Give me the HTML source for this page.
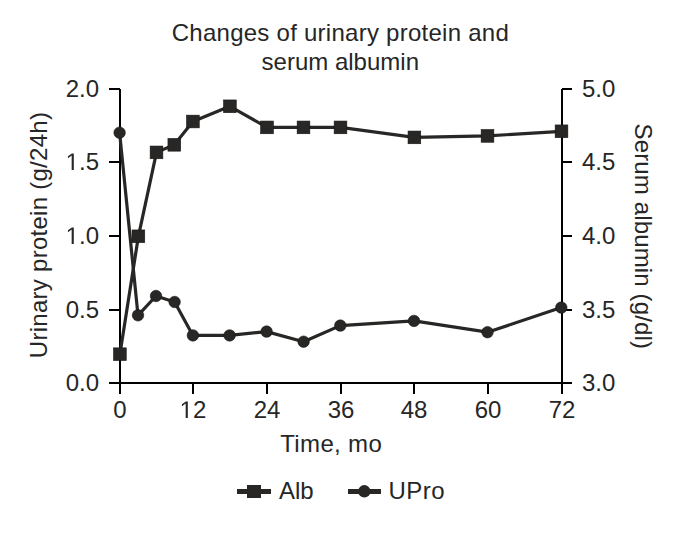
<!DOCTYPE html>
<html>
<head>
<meta charset="utf-8">
<style>
html,body{margin:0;padding:0;background:#fff;}
body{width:685px;height:539px;overflow:hidden;}
svg{display:block;}
text{font-family:"Liberation Sans",sans-serif;font-size:24px;fill:#262626;}
</style>
</head>
<body>
<svg width="685" height="539" viewBox="0 0 685 539">
<rect x="0" y="0" width="685" height="539" fill="#fff"/>
<!-- title -->
<text x="340.4" y="41" text-anchor="middle" letter-spacing="0.26">Changes of urinary protein and</text>
<text x="340.3" y="70" text-anchor="middle">serum albumin</text>

<!-- axes -->
<g stroke="#000" stroke-width="2" fill="none">
  <path d="M120 89V383H562V89"/>
  <path d="M109 89H120M109 162H120M109 236H120M109 310H120M109 383H120"/>
  <path d="M562 89H572M562 162H572M562 236H572M562 310H572M562 383H572"/>
  <path d="M120 383V394M193 383V394M267 383V394M341 383V394M414 383V394M488 383V394M562 383V394"/>
</g>

<!-- y left labels -->
<g text-anchor="end">
<text x="99" y="97">2.0</text>
<text x="99" y="170">.5</text><path fill="#262626" transform="translate(65.63,170) scale(0.011719,-0.011719)" d="M515 0V1237L197 1010V1180L530 1409H696V0Z"/>
<text x="99" y="244">.0</text><path fill="#262626" transform="translate(65.63,244) scale(0.011719,-0.011719)" d="M515 0V1237L197 1010V1180L530 1409H696V0Z"/>
<text x="99" y="318">0.5</text>
<text x="99" y="391">0.0</text>
</g>
<!-- y right labels -->
<g text-anchor="start">
<text x="582" y="97">5.0</text>
<text x="582" y="170">4.5</text>
<text x="582" y="244">4.0</text>
<text x="582" y="318">3.5</text>
<text x="582" y="391">3.0</text>
</g>
<!-- x labels -->
<g text-anchor="middle">
<text x="120" y="418">0</text>
<text x="193" y="418" text-anchor="start">2</text><path fill="#262626" transform="translate(179.65,418) scale(0.011719,-0.011719)" d="M515 0V1237L197 1010V1180L530 1409H696V0Z"/>
<text x="267" y="418">24</text>
<text x="341" y="418">36</text>
<text x="414" y="418">48</text>
<text x="488" y="418">60</text>
<text x="562" y="418">72</text>
</g>
<text x="331.2" y="452" text-anchor="middle" letter-spacing="0.35">Time, mo</text>

<text transform="translate(47,235.0) rotate(-90)" text-anchor="middle" letter-spacing="0.27">Urinary protein (g/24h)</text>
<text transform="translate(635,236.3) rotate(90)" text-anchor="middle" letter-spacing="0.14">Serum albumin (g/dl)</text>

<!-- series -->
<g stroke="#282725" stroke-width="3.2" fill="none" stroke-linejoin="round">
  <polyline points="119.9,354.2 138.4,236.3 156.5,152.4 174.3,144.8 192.9,121.5 229.9,106.3 267,127.4 303.5,127.4 340.5,127.4 414.4,137.4 487.5,135.9 561.5,131.3"/>
  <polyline points="119.6,132.7 138,315.3 156,296 174.6,302 192.9,335.4 229.6,335.4 266.6,331.6 303.6,341.7 340.3,325.6 414,320.9 487.5,332.2 561.3,307.6"/>
</g>
<g fill="#282725" stroke="#161616" stroke-width="0.6">
  <rect x="113.55" y="347.85" width="12.7" height="12.7"/>
  <rect x="132.05" y="229.95" width="12.7" height="12.7"/>
  <rect x="150.15" y="146.05" width="12.7" height="12.7"/>
  <rect x="167.95" y="138.45" width="12.7" height="12.7"/>
  <rect x="186.55" y="115.15" width="12.7" height="12.7"/>
  <rect x="223.55" y="99.95" width="12.7" height="12.7"/>
  <rect x="260.65" y="121.05" width="12.7" height="12.7"/>
  <rect x="297.15" y="121.05" width="12.7" height="12.7"/>
  <rect x="334.15" y="121.05" width="12.7" height="12.7"/>
  <rect x="408.05" y="131.05" width="12.7" height="12.7"/>
  <rect x="481.15" y="129.55" width="12.7" height="12.7"/>
  <rect x="555.15" y="124.95" width="12.7" height="12.7"/>
</g>
<g fill="#282725" stroke="#161616" stroke-width="0.6">
  <circle cx="119.6" cy="132.7" r="5.75"/>
  <circle cx="138" cy="315.3" r="5.75"/>
  <circle cx="156" cy="296" r="5.75"/>
  <circle cx="174.6" cy="302" r="5.75"/>
  <circle cx="192.9" cy="335.4" r="5.75"/>
  <circle cx="229.6" cy="335.4" r="5.75"/>
  <circle cx="266.6" cy="331.6" r="5.75"/>
  <circle cx="303.6" cy="341.7" r="5.75"/>
  <circle cx="340.3" cy="325.6" r="5.75"/>
  <circle cx="414" cy="320.9" r="5.75"/>
  <circle cx="487.5" cy="332.2" r="5.75"/>
  <circle cx="561.3" cy="307.6" r="5.75"/>
</g>

<!-- legend -->
<g fill="#282725">
  <rect x="237" y="489" width="34" height="5"/>
  <rect x="247" y="485" width="14" height="13"/>
  <rect x="348" y="489" width="33" height="5"/>
  <circle cx="364.3" cy="491.3" r="6.2"/>
</g>
<text x="279" y="499">Alb</text>
<text x="388.6" y="499" letter-spacing="0.4">UPro</text>
</svg>
</body>
</html>
